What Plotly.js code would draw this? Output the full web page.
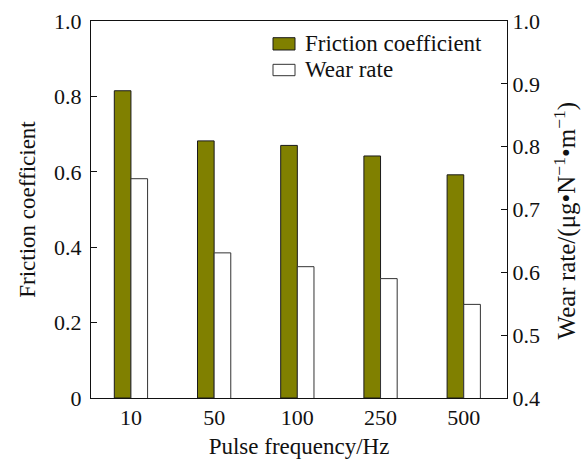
<!DOCTYPE html>
<html>
<head>
<meta charset="utf-8">
<script src="https://cdn.plot.ly/plotly-3.0.1.min.js"></script>
<style>
  html, body { margin: 0; padding: 0; background: #ffffff; }
  #chart { width: 584px; height: 459px; }
</style>
</head>
<body>
<div id="chart"></div>
<script>
// Data
const categories = ["10", "50", "100", "250", "500"];
const frictionCoefficient = [0.815, 0.682, 0.670, 0.642, 0.592];
const wearRate = [0.749, 0.631, 0.609, 0.590, 0.549];
const seriesNames = ["Friction coefficient", "Wear rate"];

const leftTickVals = [0, 0.2, 0.4, 0.6, 0.8, 1.0];
const leftTickText = ["0", "0.2", "0.4", "0.6", "0.8", "1.0"];
const rightTickVals = [0.4, 0.5, 0.6, 0.7, 0.8, 0.9, 1.0];
const rightTickText = ["0.4", "0.5", "0.6", "0.7", "0.8", "0.9", "1.0"];

const xTitle = "Pulse frequency/Hz";
const leftTitle = "Friction coefficient";
const rightTitle = "Wear rate/(μg•N<sup>−1</sup>•m<sup>−1</sup>)";

const FONT = "Liberation Serif";
const FILLS = ["#808000", "#ffffff"];
const OUTLINES = ["#1a1a1a", "#333333"];

const traces = [
  {
    type: "bar",
    name: seriesNames[0],
    x: categories,
    y: frictionCoefficient,
    xaxis: "x",
    yaxis: "y",
    width: 0.2,
    offset: -0.2,
    marker: { color: FILLS[0], line: { color: OUTLINES[0], width: 1 } }
  },
  {
    type: "bar",
    name: seriesNames[1],
    x: categories,
    y: wearRate,
    base: 0,
    xaxis: "x",
    yaxis: "y2",
    width: 0.2,
    offset: 0,
    marker: { color: FILLS[1], line: { color: OUTLINES[1], width: 1 } }
  }
];

// Legend drawn as keys + labels in paper coordinates
const legendKeyX = [0.4375, 0.4904];
const legendRows = [
  { y0: 0.9231, y1: 0.9557, ty: 0.9390 },
  { y0: 0.8549, y1: 0.8851, ty: 0.8705 }
];
const legendShapes = legendRows.map((r, i) => ({
  type: "rect", xref: "paper", yref: "paper",
  x0: legendKeyX[0], x1: legendKeyX[1], y0: r.y0, y1: r.y1,
  fillcolor: FILLS[i], line: { color: OUTLINES[i], width: 1 }
}));
const legendLabels = legendRows.map((r, i) => ({
  xref: "paper", yref: "paper", x: 0.5096, y: r.ty,
  xanchor: "left", yanchor: "middle", showarrow: false,
  text: seriesNames[i],
  font: { family: FONT, size: 23, color: "#111111" }
}));

// Right axis title placed as a rotated annotation
const rightTitleAnno = {
  xref: "paper", yref: "paper", x: 1.141, y: 0.47,
  xanchor: "center", yanchor: "middle", showarrow: false,
  textangle: -90,
  text: rightTitle,
  font: { family: FONT, size: 25, color: "#111111" }
};

const layout = {
  width: 584,
  height: 459,
  margin: { l: 91, r: 77, t: 21, b: 61, pad: 0 },
  paper_bgcolor: "#ffffff",
  plot_bgcolor: "#ffffff",
  font: { family: FONT, size: 22, color: "#111111" },
  showlegend: false,
  shapes: legendShapes,
  annotations: legendLabels.concat([rightTitleAnno]),
  xaxis: {
    type: "category",
    range: [-0.48, 4.52],
    showline: true,
    linecolor: "#111111",
    linewidth: 1,
    mirror: true,
    ticks: "",
    showgrid: false,
    zeroline: false,
    tickfont: { family: FONT, size: 22 },
    title: { text: xTitle, font: { family: FONT, size: 23 }, standoff: 10 }
  },
  yaxis: {
    range: [0, 1.0],
    tickvals: leftTickVals,
    ticktext: leftTickText,
    showline: true,
    linecolor: "#111111",
    linewidth: 1,
    ticks: "inside",
    ticklen: 6,
    tickcolor: "#111111",
    ticklabelstandoff: 4,
    showgrid: false,
    zeroline: false,
    tickfont: { family: FONT, size: 22 },
    title: { text: leftTitle, font: { family: FONT, size: 23 }, standoff: 12 }
  },
  yaxis2: {
    overlaying: "y",
    side: "right",
    range: [0.4, 1.0],
    tickvals: rightTickVals,
    ticktext: rightTickText,
    showline: true,
    linecolor: "#111111",
    linewidth: 1,
    ticks: "inside",
    ticklen: 6,
    tickcolor: "#111111",
    showgrid: false,
    zeroline: false,
    tickfont: { family: FONT, size: 22 }
  }
};

Plotly.newPlot("chart", traces, layout, { staticPlot: true, displayModeBar: false });
</script>
</body>
</html>
